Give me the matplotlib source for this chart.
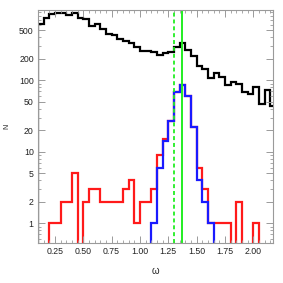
"""Histogram of omega: full sample (black), subsets (red, blue), log N axis."""
import matplotlib; matplotlib.use("Agg")
import matplotlib.pyplot as plt
import numpy as np
from matplotlib.ticker import FixedLocator, MultipleLocator, LogLocator, NullFormatter

# bin edges every 0.05 from 0.10 to 2.20
edges = np.round(np.arange(0.10, 2.2001, 0.05), 2)

black_n = [613, 736, 838, 883, 883, 811, 862, 744, 710, 564,
           606, 522, 444, 425, 380, 350, 335, 295, 258, 256,
           245, 226, 239, 252, 295, 330, 265, 218, 158, 144,
           108, 128, 110, 86, 94, 88, 68, 64, 80, 47,
           73, 43]
red_n = [0, 0, 1, 1, 2, 2, 5, 0, 2, 3,
         3, 2, 2, 2, 2, 3, 4, 1, 2, 2,
         3, 9, 15, 27, 69, 85, 61, 22, 6, 3,
         1, 1, 1, 1, 0, 2, 0, 0, 1, 0,
         0, 0]
blue_n = [0, 0, 0, 0, 0, 0, 0, 0, 0, 0,
          0, 0, 0, 0, 0, 0, 0, 0, 0, 0,
          1, 6, 14, 27, 69, 85, 61, 22, 4, 2,
          1, 0, 0, 0, 0, 0, 0, 0, 0, 0,
          0, 0]
omega_mean = 1.30    # dashed green
omega_peak = 1.372   # solid green

yticks = [1, 2, 5, 10, 20, 50, 100, 200, 500]
xticks = [0.25, 0.50, 0.75, 1.00, 1.25, 1.50, 1.75, 2.00]

FLOOR = 1e-2
GREEN = "#22ee22"
FRAME = "#9a9a9a"

plt.rcParams["font.family"] = ["Liberation Sans", "DejaVu Sans"]
fig = plt.figure(figsize=(2.83, 2.83), dpi=100)
ax = fig.add_axes([0.134, 0.141, 0.831, 0.825])

for counts, col in [(black_n, "black"), (red_n, "#ff1a1a"), (blue_n, "#1a1aff")]:
    v = np.where(np.array(counts) > 0, counts, FLOOR).astype(float)
    ax.stairs(v, edges, baseline=FLOOR, color=col, lw=1.6)

ax.axvline(omega_mean, color=GREEN, lw=1.3, ls=(0, (2.2, 1.6)))
ax.axvline(omega_peak, color=GREEN, lw=1.4)

ax.set_yscale("log")
ax.set_xlim(0.10, 2.175)
ax.set_ylim(0.53, 970)

ax.yaxis.set_major_locator(FixedLocator(yticks))
ax.set_yticklabels([str(t) for t in yticks])
ax.yaxis.set_minor_locator(LogLocator(base=10, subs=np.arange(1, 10)))
ax.yaxis.set_minor_formatter(NullFormatter())
ax.set_xticks(xticks)
ax.set_xticklabels([f"{t:.2f}" for t in xticks])
ax.xaxis.set_minor_locator(MultipleLocator(0.05))

ax.tick_params(which="both", direction="in", top=True, right=True,
               color=FRAME, labelsize=6.3, labelcolor="#222222", pad=3)
ax.tick_params(which="major", length=5, width=0.7)
ax.tick_params(which="minor", length=2.5, width=0.6)
for s in ax.spines.values():
    s.set_color(FRAME)
    s.set_linewidth(0.8)

ax.set_xlabel("ω", fontsize=7, color="#222222", labelpad=7)
ax.set_ylabel("N", fontsize=5, color="#222222", labelpad=6)

fig.savefig("out.png", dpi=100)
